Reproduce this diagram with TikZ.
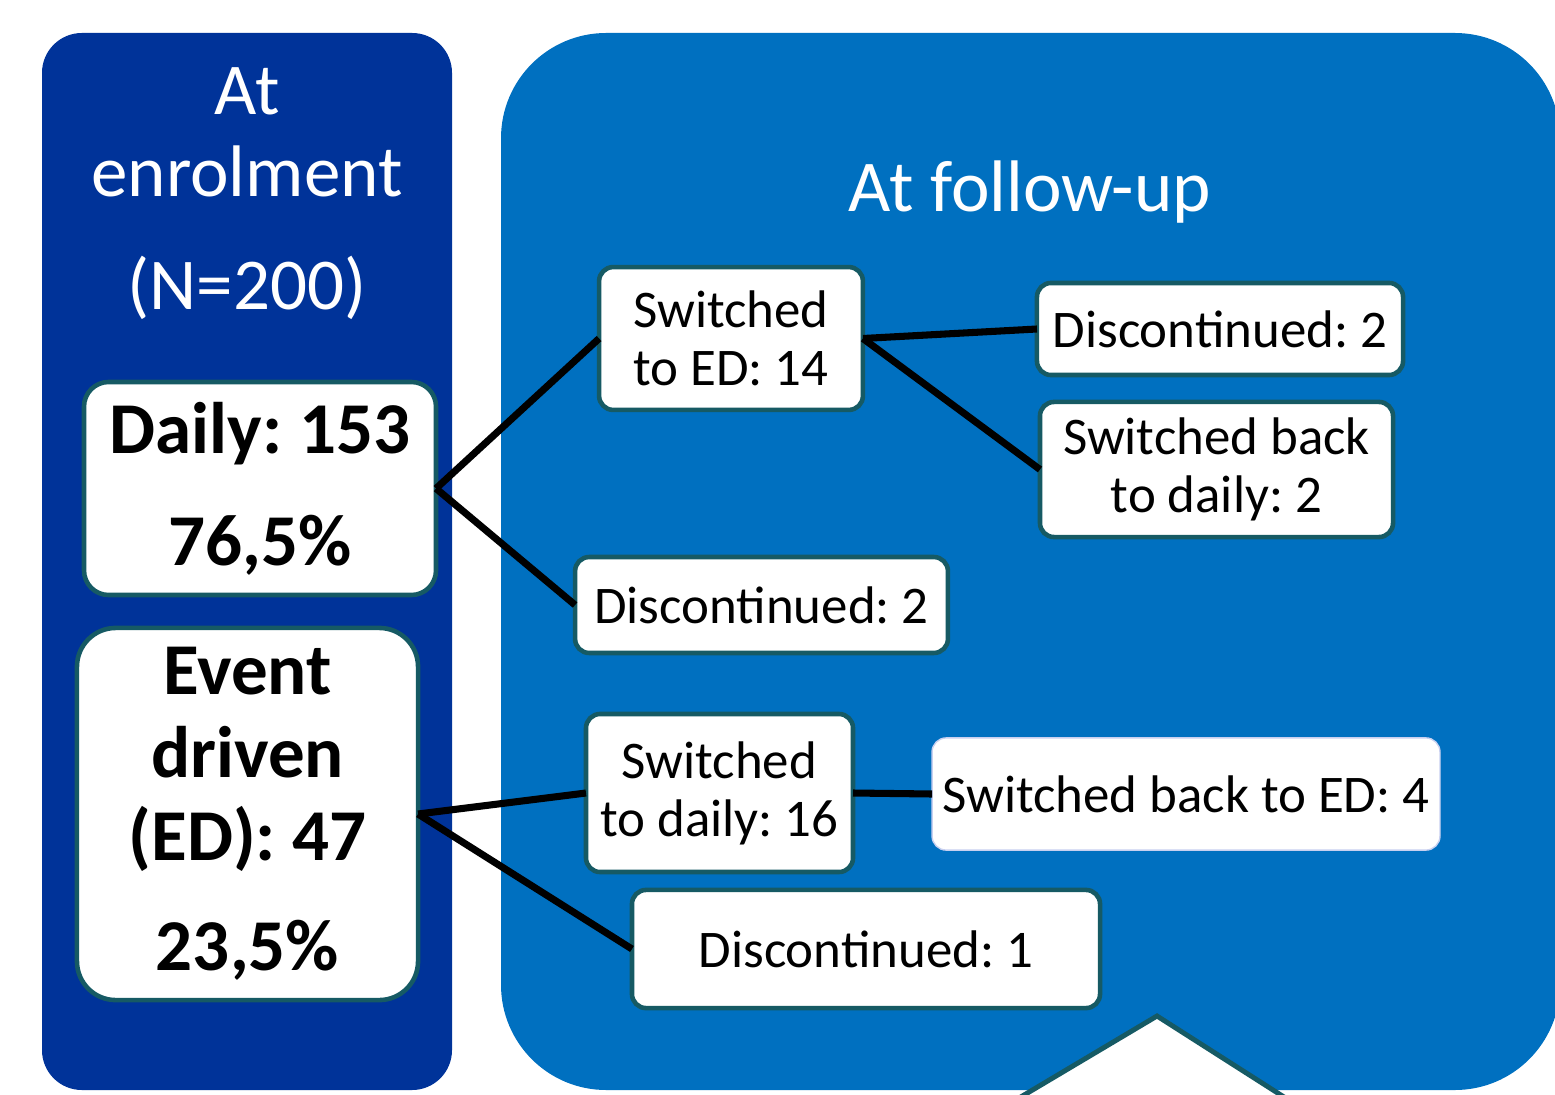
\documentclass[tikz,border=0pt]{standalone}
\usepackage{fontspec}
\setmainfont{Carlito}
\frenchspacing
\definecolor{leftblue}{RGB}{0,51,153}
\definecolor{rightblue}{RGB}{0,112,192}
\definecolor{boxedge}{RGB}{22,90,100}
\definecolor{paleedge}{RGB}{200,208,240}
\begin{document}
\begin{tikzpicture}[x=0.2835pt,y=-0.2835pt,
  box/.style={draw=boxedge, line width=1.3pt, fill=white, rounded corners=4pt,
    inner sep=0pt, outer sep=0pt, align=center, text=black},
  small/.style={font=\fontsize{15}{16.5}\selectfont},
  big/.style={font=\fontsize{20.7}{23.5}\selectfont\bfseries},
  head/.style={text=white, align=center, font=\fontsize{20.7}{23.25}\selectfont},
  link/.style={line width=2pt, draw=black}]
\clip (0,0) rectangle (1555,1094);
% panels
\fill[leftblue, rounded corners=11.3pt] (42,33) rectangle (452,1090);
\fill[rightblue, rounded corners=29.8pt] (501,33) rectangle (1560,1090);
% headers
\node[head, anchor=base] (enrol) at (247,310) {At\\enrolment\\[8.8pt](N=200)};
\node[head, anchor=base] (follow) at (1030,212) {At follow-up};
% boxes
\node[box, big, rounded corners=7pt, minimum width=99.8pt, minimum height=60.4pt] (daily) at (260,488.5) {Daily: 153\\[8.25pt]76,5\%};
\node[box, big, rounded corners=11pt, minimum width=96.7pt, minimum height=105.5pt] (ed) at (247.5,814) {Event\\driven\\(ED): 47\\[7.8pt]23,5\%};
\node[box, small, minimum width=74.8pt, minimum height=40.5pt] (sed) at (731,338.5) {Switched\\to ED: 14};
\node[box, small, minimum width=103.8pt, minimum height=26.1pt] (disca) at (1220,329) {Discontinued: 2};
\node[box, small, minimum width=100.1pt, minimum height=38.3pt] (sbd) at (1216.5,469.5) {Switched back\\to daily: 2};
\node[box, small, minimum width=105.7pt, minimum height=27.2pt] (discb) at (761.5,605) {Discontinued: 2};
\node[box, small, minimum width=75.7pt, minimum height=44.8pt] (std) at (719.5,793) {Switched\\to daily: 16};
\node[box, small, draw=paleedge, line width=0.4pt, minimum width=144pt, minimum height=31.8pt] (sbed) at (1186,794) {Switched back to ED: 4};
\node[box, small, minimum width=132.7pt, minimum height=33.5pt] (discc) at (866,949) {Discontinued: 1};
% connectors
\draw[link] (daily.east) -- (sed.west);
\draw[link] (daily.east) -- (discb.west);
\draw[link] (sed.east) -- (disca.west);
\draw[link] (sed.east) -- (sbd.west);
\draw[link] (ed.east) -- (std.west);
\draw[link] (ed.east) -- (discc.west);
\draw[link] (std.east) -- (sbed.west);
% pointer at bottom
\filldraw[fill=white, draw=boxedge, line width=1.4pt] (982,1120) -- (1157,1016) -- (1320,1120);
\end{tikzpicture}
\end{document}
